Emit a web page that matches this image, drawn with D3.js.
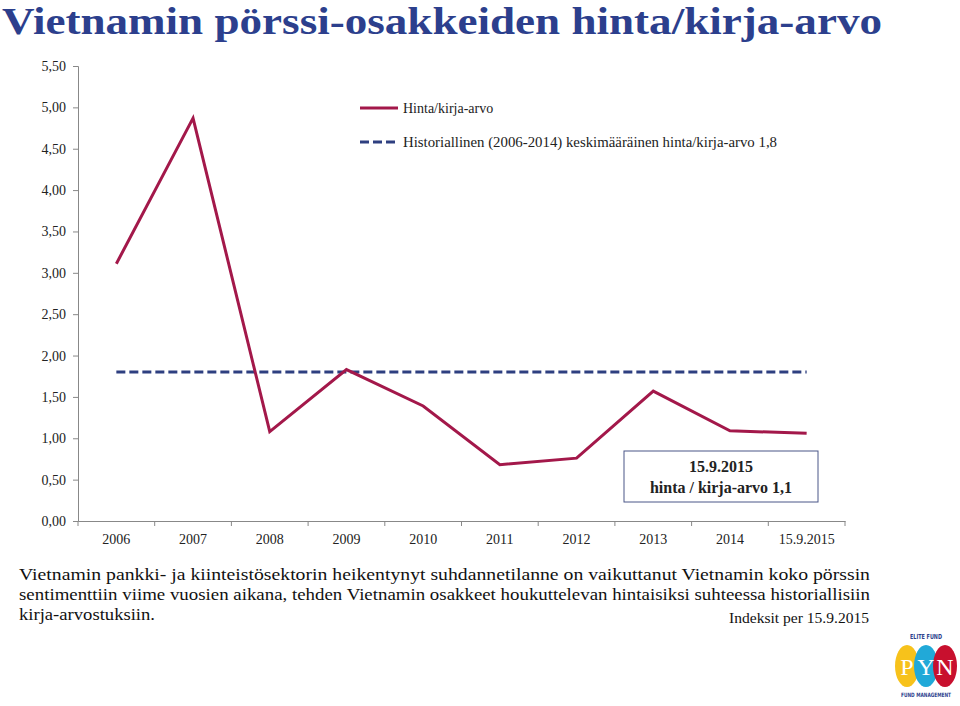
<!DOCTYPE html>
<html>
<head>
<meta charset="utf-8">
<script src="https://cdn.jsdelivr.net/npm/d3@7"></script>
<style>
  body { margin: 0; background: #fff; }
</style>
</head>
<body>
<div id="chart"></div>
<script>
// Data
const years = ['2006', '2007', '2008', '2009', '2010', '2011', '2012', '2013', '2014', '15.9.2015'];
const pbValues = [3.11, 4.87, 1.08, 1.83, 1.39, 0.68, 0.76, 1.57, 1.09, 1.06];
const histAverage = 1.8;
const yTicks = [0, 0.5, 1, 1.5, 2, 2.5, 3, 3.5, 4, 4.5, 5, 5.5];
const seriesNames = ['Hinta/kirja-arvo', 'Historiallinen (2006-2014) keskimääräinen hinta/kirja-arvo 1,8'];
const textLines = [
    'Vietnamin pankki- ja kiinteistösektorin heikentynyt suhdannetilanne on vaikuttanut Vietnamin koko pörssin',
    'sentimenttiin viime vuosien aikana, tehden Vietnamin osakkeet houkuttelevan hintaisiksi suhteessa historiallisiin',
    'kirja-arvostuksiin.'
];

const width = 960, height = 706;
const plotLeft = 78, plotRight = 845, plotTop = 66, plotBottom = 521;
const red = '#a3184a', blue = '#2e3f80';
const serif = '"Liberation Serif", "DejaVu Serif", serif';
const narrow = '"Liberation Sans Narrow", "DejaVu Sans Condensed", sans-serif';

const svg = d3.select('#chart')
    .append('svg')
    .attr('width', width)
    .attr('height', height)
    .style('font-family', serif);

// Title
svg.append('text')
    .attr('x', 2)
    .attr('y', 34)
    .attr('textLength', 880)
    .attr('lengthAdjust', 'spacingAndGlyphs')
    .style('font-family', serif)
    .style('font-size', '38px')
    .style('font-weight', 'bold')
    .style('fill', '#2c3f8d')
    .text('Vietnamin pörssi-osakkeiden hinta/kirja-arvo');

// Scales
const x = d3.scaleBand()
    .domain(years)
    .range([plotLeft, plotRight]);

const y = d3.scaleLinear()
    .domain([0, 5.5])
    .range([plotBottom, plotTop]);

const fmt = v => d3.format('.2f')(v).replace('.', ',');

// Y axis
const yAxis = svg.append('g')
    .attr('transform', `translate(${plotLeft},0)`)
    .call(d3.axisLeft(y).tickValues(yTicks).tickFormat(fmt).tickSize(5).tickPadding(7));
yAxis.attr('font-family', null);
yAxis.selectAll('text').style('font-family', serif).style('font-size', '14px').style('fill', '#222');

// X axis
const xAxis = svg.append('g')
    .attr('transform', `translate(0,${plotBottom})`)
    .call(d3.axisBottom(x).tickSize(0).tickPadding(13));
xAxis.attr('font-family', null);
xAxis.selectAll('text').style('font-family', serif).style('font-size', '14px').style('fill', '#222');
xAxis.selectAll('.tick').append('line')
    .attr('x1', x.bandwidth() / 2).attr('x2', x.bandwidth() / 2)
    .attr('y1', 0).attr('y2', 5)
    .attr('stroke', '#888');
xAxis.append('line')
    .attr('x1', plotLeft).attr('x2', plotLeft).attr('y1', 0).attr('y2', 5)
    .attr('stroke', '#888');

svg.selectAll('.domain').attr('stroke', '#888');
yAxis.selectAll('.tick line').attr('stroke', '#888');

// Average line
svg.append('line')
    .attr('x1', x(years[0]) + x.bandwidth() / 2)
    .attr('x2', x(years[years.length - 1]) + x.bandwidth() / 2)
    .attr('y1', y(histAverage))
    .attr('y2', y(histAverage))
    .attr('stroke', blue)
    .attr('stroke-width', 3)
    .attr('stroke-dasharray', '9,4');

// P/B line
const line = d3.line()
    .x((d, i) => x(years[i]) + x.bandwidth() / 2)
    .y(d => y(d));

svg.append('path')
    .datum(pbValues)
    .attr('d', line)
    .attr('fill', 'none')
    .attr('stroke', red)
    .attr('stroke-width', 3)
    .attr('stroke-linejoin', 'miter');

// Legend
const legend = svg.append('g').attr('transform', 'translate(360,108)');
legend.append('line')
    .attr('x1', 0).attr('x2', 38).attr('y1', 0).attr('y2', 0)
    .attr('stroke', red).attr('stroke-width', 3);
legend.append('text')
    .attr('x', 43).attr('y', 5)
    .style('font-family', serif).style('font-size', '14px').style('fill', '#222')
    .text(seriesNames[0]);
legend.append('line')
    .attr('x1', 0).attr('x2', 38).attr('y1', 34).attr('y2', 34)
    .attr('stroke', blue).attr('stroke-width', 3).attr('stroke-dasharray', '9,4');
legend.append('text')
    .attr('x', 43).attr('y', 39)
    .attr('textLength', 374).attr('lengthAdjust', 'spacingAndGlyphs')
    .style('font-family', serif).style('font-size', '14px').style('fill', '#222')
    .text(seriesNames[1]);

// Annotation box
const note = svg.append('g').attr('transform', 'translate(624,451)');
note.append('rect')
    .attr('width', 194).attr('height', 51)
    .attr('fill', '#fff').attr('stroke', '#4a5688').attr('stroke-width', 1);
note.append('text')
    .attr('x', 97).attr('y', 21)
    .attr('text-anchor', 'middle')
    .style('font-family', serif).style('font-size', '16px').style('font-weight', 'bold').style('fill', '#222')
    .text('15.9.2015');
note.append('text')
    .attr('x', 97).attr('y', 42)
    .attr('text-anchor', 'middle')
    .style('font-family', serif).style('font-size', '16px').style('font-weight', 'bold').style('fill', '#222')
    .text('hinta / kirja-arvo 1,1');

// Body text
const body = svg.append('g');
textLines.forEach((t, i) => {
    body.append('text')
        .attr('x', 19)
        .attr('y', 580 + i * 20)
        .attr('textLength', i < 2 ? 851 : 136)
        .attr('lengthAdjust', 'spacingAndGlyphs')
        .style('font-family', serif)
        .style('font-size', '17px')
        .style('fill', '#111')
        .text(t);
});
body.append('text')
    .attr('x', 869).attr('y', 623)
    .attr('text-anchor', 'end')
    .attr('textLength', 140).attr('lengthAdjust', 'spacingAndGlyphs')
    .style('font-family', serif).style('font-size', '15px').style('fill', '#111')
    .text('Indeksit per 15.9.2015');

// Logo
const logo = svg.append('g').attr('transform', 'translate(893,630)');
logo.append('text')
    .attr('x', 33).attr('y', 9).attr('text-anchor', 'middle')
    .attr('textLength', 32).attr('lengthAdjust', 'spacingAndGlyphs')
    .style('font-family', narrow)
    .style('font-size', '7px').style('font-weight', 'bold').style('fill', '#2c3f8d')
    .text('ELITE FUND');
const ell = [
    { cx: 14, color: '#f7c21b', letter: 'P' },
    { cx: 33, color: '#21a9d8', letter: 'Y' },
    { cx: 52, color: '#c8102e', letter: 'N' }
];
logo.selectAll('ellipse')
    .data(ell)
    .enter()
    .append('ellipse')
    .attr('cx', d => d.cx).attr('cy', 36)
    .attr('rx', 12).attr('ry', 21)
    .attr('fill', d => d.color);
logo.selectAll('.letter')
    .data(ell)
    .enter()
    .append('text')
    .attr('class', 'letter')
    .attr('x', d => d.cx).attr('y', 45)
    .attr('text-anchor', 'middle')
    .style('font-family', serif)
    .style('font-size', '24px').style('fill', '#fff')
    .text(d => d.letter);
logo.append('text')
    .attr('x', 33).attr('y', 67).attr('text-anchor', 'middle')
    .attr('textLength', 50).attr('lengthAdjust', 'spacingAndGlyphs')
    .style('font-family', narrow)
    .style('font-size', '6px').style('font-weight', 'bold').style('fill', '#2c3f8d')
    .text('FUND MANAGEMENT');
</script>
</body>
</html>
